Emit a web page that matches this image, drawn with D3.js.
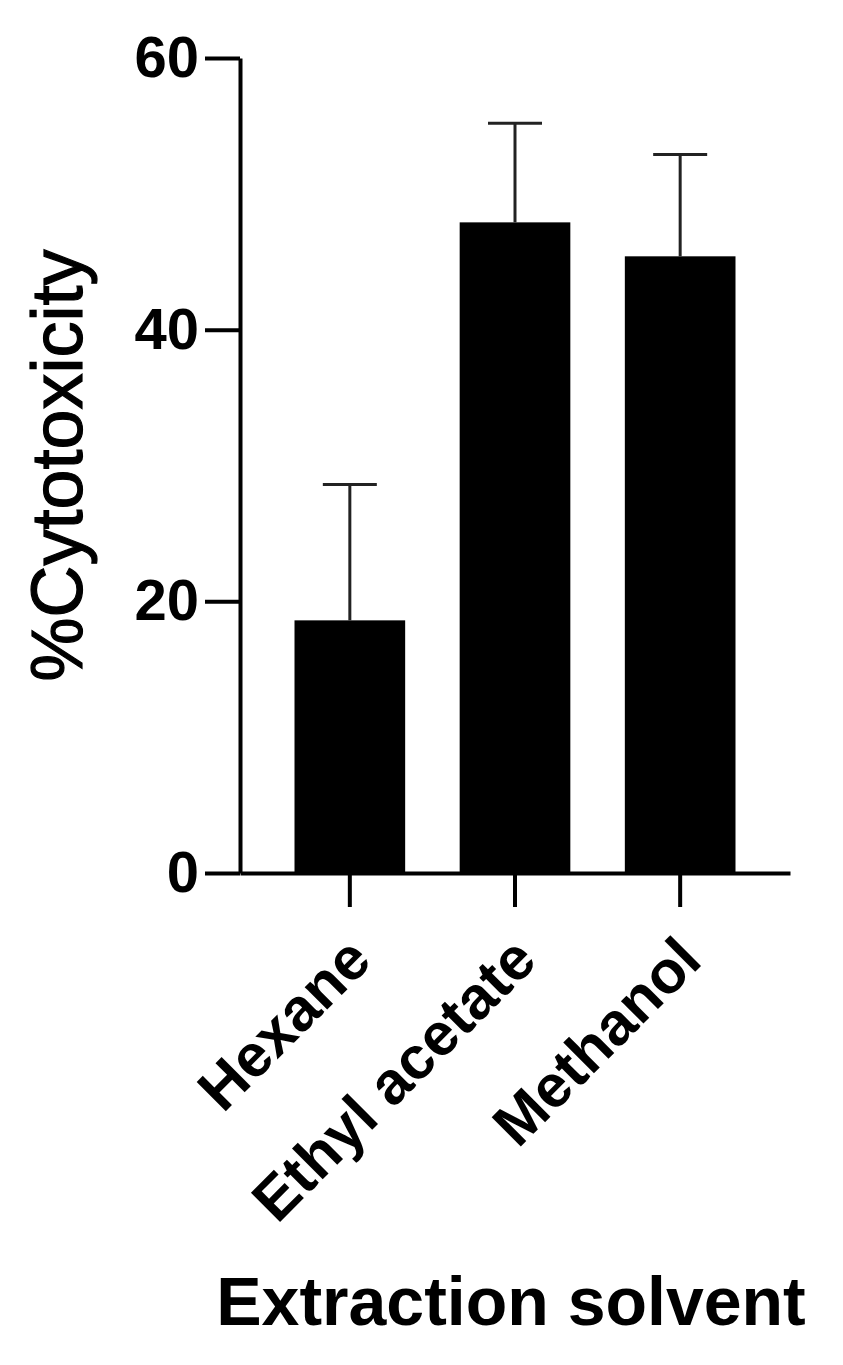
<!DOCTYPE html>
<html>
<head>
<meta charset="utf-8">
<script src="https://d3js.org/d3.v7.min.js"></script>
<style>
    body { margin: 0; background: #fff; }
    svg { display: block; }
    text { font-family: "Liberation Sans", Arial, sans-serif; fill: #000; }
    .axis path, .axis line { stroke: #000; stroke-width: 4px; }
    .axis text { font-size: 58px; font-weight: bold; }
</style>
</head>
<body>
<div id="chart"></div>
<script>
    // data
    var solvents = ["Hexane", "Ethyl acetate", "Methanol"];
    var means = [18.6, 47.9, 45.4];
    var errors = [10.0, 7.3, 7.5];
    var yTicks = [0, 20, 40, 60];

    var width = 843, height = 1365;

    var svg = d3.select("#chart")
        .append("svg")
        .attr("width", width)
        .attr("height", height);

    var x = d3.scaleBand()
        .domain(solvents)
        .range([240, 790])
        .paddingInner(0.33)
        .paddingOuter(0.33);

    var y = d3.scaleLinear()
        .domain([0, 60])
        .range([873, 58]);

    // bars
    svg.selectAll(".bar")
        .data(solvents)
        .enter()
        .append("rect")
        .attr("class", "bar")
        .attr("x", function (d) { return x(d) })
        .attr("y", function (d, i) { return y(means[i]) })
        .attr("width", x.bandwidth())
        .attr("height", function (d, i) { return y(0) - y(means[i]) })
        .attr("fill", "#000");

    // error bars (upper only)
    var err = svg.selectAll(".err")
        .data(solvents)
        .enter()
        .append("g")
        .attr("class", "err")
        .attr("stroke", "#222")
        .attr("stroke-width", 3);

    err.append("line")
        .attr("x1", function (d) { return x(d) + x.bandwidth() / 2 })
        .attr("x2", function (d) { return x(d) + x.bandwidth() / 2 })
        .attr("y1", function (d, i) { return y(means[i]) })
        .attr("y2", function (d, i) { return y(means[i] + errors[i]) });

    err.append("line")
        .attr("x1", function (d) { return x(d) + x.bandwidth() / 2 - 27 })
        .attr("x2", function (d) { return x(d) + x.bandwidth() / 2 + 27 })
        .attr("y1", function (d, i) { return y(means[i] + errors[i]) })
        .attr("y2", function (d, i) { return y(means[i] + errors[i]) });

    // y axis
    svg.append("g")
        .attr("class", "axis")
        .attr("transform", "translate(240,0)")
        .call(d3.axisLeft(y).tickValues(yTicks).tickSize(35).tickSizeOuter(0).tickPadding(6));

    // x axis
    var xAxis = svg.append("g")
        .attr("class", "axis")
        .attr("transform", "translate(0," + y(0) + ")")
        .call(d3.axisBottom(x).tickSize(34).tickSizeOuter(0));

    xAxis.selectAll("text")
        .attr("text-anchor", "end")
        .attr("x", 0)
        .attr("y", 0)
        .attr("dy", 0)
        .style("font-size", "60px")
        .attr("transform", "translate(24,90) rotate(-45)");

    // axis titles
    svg.append("text")
        .attr("transform", "translate(82," + (y(0) + y(60)) / 2 + ") rotate(-90)")
        .attr("text-anchor", "middle")
        .style("font-size", "72px")
        .style("stroke", "#000")
        .style("stroke-width", "1.2px")
        .text("%Cytotoxicity");

    svg.append("text")
        .attr("x", 511)
        .attr("y", 1325)
        .attr("text-anchor", "middle")
        .style("font-size", "68px")
        .style("font-weight", "bold")
        .text("Extraction solvent");
</script>
</body>
</html>
